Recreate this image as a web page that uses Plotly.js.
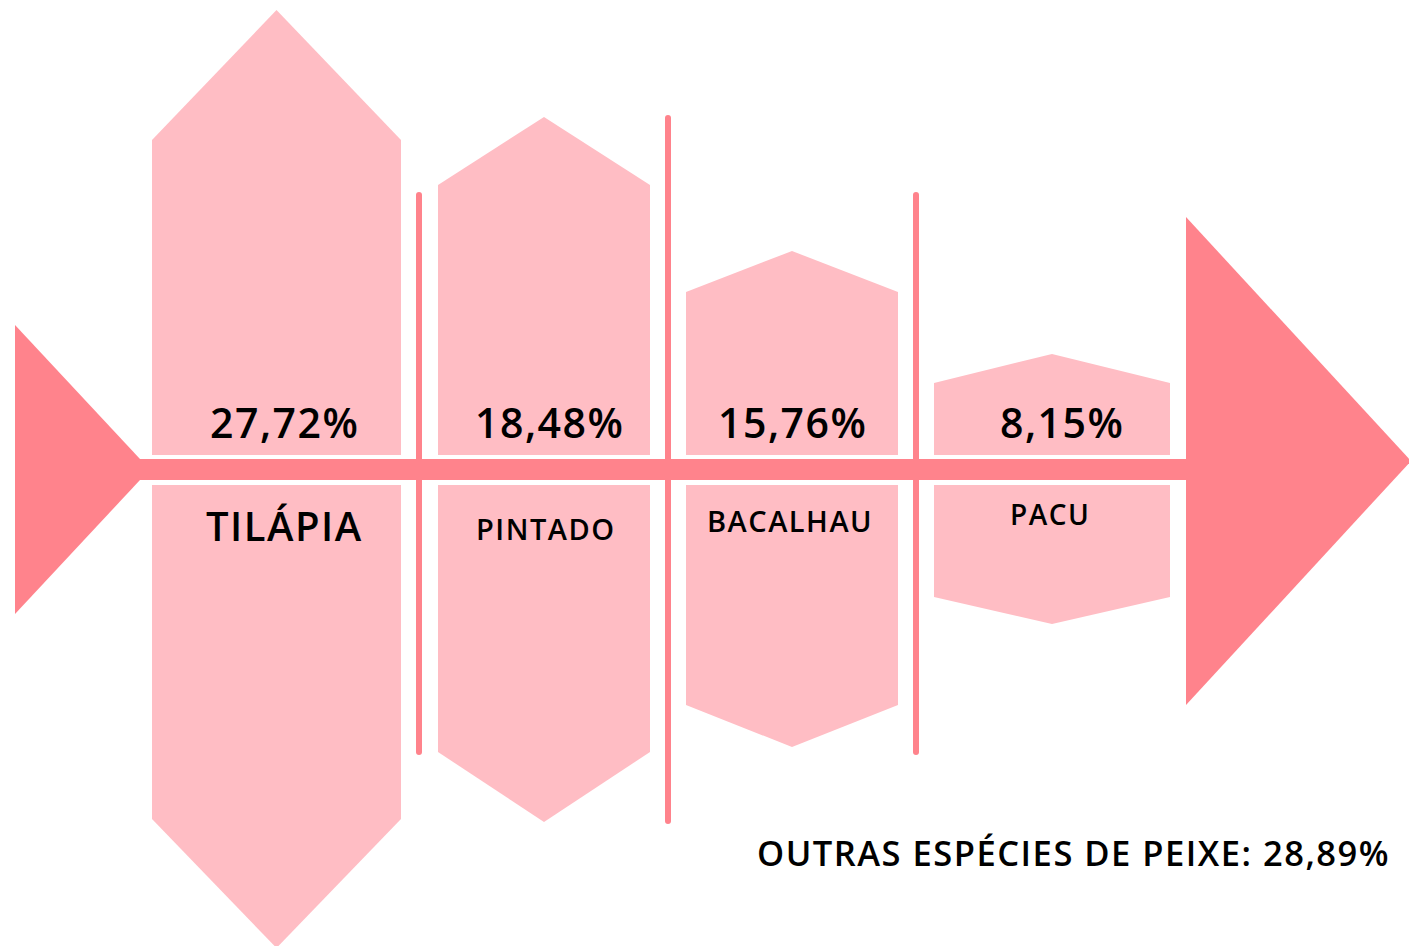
<!DOCTYPE html>
<html>
<head>
<meta charset="utf-8">
<script src="https://cdn.plot.ly/plotly-3.0.1.min.js"></script>
<style>
  html, body { margin: 0; padding: 0; background: #ffffff; }
  #chart { width: 1409px; height: 946px; }
  .scatterlayer .js-line { stroke-linecap: round; }
  .annotation-text { letter-spacing: 1.5px; }
</style>
</head>
<body>
<div id="chart"></div>
<script>
// ---- data ----
const species = ["TILÁPIA", "PINTADO", "BACALHAU", "PACU"];
const shares = [27.72, 18.48, 15.76, 8.15];
const otherLabel = "OUTRAS ESPÉCIES DE PEIXE";
const otherShare = 28.89;

// ---- pictogram layout (pixel units of a 1409 x 946 canvas) ----
const W = 1409, H = 946;
const segLeft   = [152, 438, 686, 934];
const segRight  = [401, 650, 898, 1170];
const topPeak   = [10, 117, 251, 354];
const topShoul  = [140, 185, 292, 383];
const topEnd    = 455;
const botStart  = 485;
const botShoul  = [819, 752, 705, 597];
const botPeak   = [948, 822, 747, 624];
const valueX    = [284, 549, 792, 1062];
const valueY    = 422;
const nameX     = [284, 546, 790, 1050];
const nameY     = [525, 528, 520, 514];
const nameSize  = [40, 29, 29, 28];
const ribX      = [419, 668, 916];
const ribTop    = [195, 118, 195];
const ribBot    = [752, 821, 752];
const spineTop = 459, spineBot = 480;
const spineL = 140, spineR = 1186;

const LIGHT = "#FFBDC4";
const DARK = "#FF838C";

const fmt = v => v.toFixed(2).replace(".", ",") + "%";

const traces = [];
function poly(xs, ys, color) {
  traces.push({
    type: "scatter", mode: "lines", x: xs.concat([xs[0]]), y: ys.concat([ys[0]]),
    fill: "toself", fillcolor: color, line: { width: 0, color: color },
    hoverinfo: "skip", showlegend: false
  });
}

// tail
poly([15, spineL, spineL, 15], [325, spineTop, spineBot, 614], DARK);
// spine
poly([spineL, spineR, spineR, spineL], [spineTop, spineTop, spineBot, spineBot], DARK);
// head
poly([1186, W + 2, 1186], [217, 461, 705], DARK);

// body segments
species.forEach((s, i) => {
  const l = segLeft[i], r = segRight[i], c = (l + r) / 2;
  poly([l, c, r, r, l], [topShoul[i], topPeak[i], topShoul[i], topEnd, topEnd], LIGHT);
  poly([l, r, r, c, l], [botStart, botStart, botShoul[i], botPeak[i], botShoul[i]], LIGHT);
});

// ribs
ribX.forEach((x, i) => {
  traces.push({
    type: "scatter", mode: "lines", x: [x, x], y: [ribTop[i], ribBot[i]],
    line: { width: 6, color: DARK }, hoverinfo: "skip", showlegend: false
  });
});

const FONT = "'Open Sans', 'Noto Sans', sans-serif";
const annotations = [];
species.forEach((s, i) => {
  annotations.push({
    x: valueX[i], y: valueY, xref: "x", yref: "y", text: fmt(shares[i]),
    showarrow: false, xanchor: "center", yanchor: "middle",
    font: { family: FONT, size: 41, color: "#000000", weight: 600 }
  });
  annotations.push({
    x: nameX[i], y: nameY[i], xref: "x", yref: "y", text: s,
    showarrow: false, xanchor: "center", yanchor: "middle",
    font: { family: FONT, size: nameSize[i], color: "#000000", weight: 600 }
  });
});
annotations.push({
  x: 755, y: 852, xref: "x", yref: "y",
  text: otherLabel + ": " + fmt(otherShare),
  showarrow: false, xanchor: "left", yanchor: "middle",
  font: { family: FONT, size: 34.5, color: "#000000", weight: 600 }
});

const layout = {
  width: W, height: H,
  margin: { l: 0, r: 0, t: 0, b: 0 },
  paper_bgcolor: "#ffffff", plot_bgcolor: "#ffffff",
  xaxis: { range: [0, W], visible: false, fixedrange: true },
  yaxis: { range: [H, 0], visible: false, fixedrange: true },
  showlegend: false,
  annotations: annotations
};

Plotly.newPlot("chart", traces, layout, { displayModeBar: false, staticPlot: true });
</script>
</body>
</html>
